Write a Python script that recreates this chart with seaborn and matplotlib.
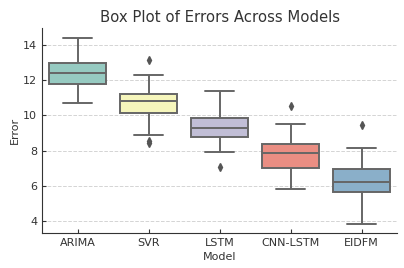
import matplotlib
matplotlib.use("Agg")
import matplotlib.pyplot as plt
import seaborn as sns
import pandas as pd

models = ["ARIMA", "SVR", "LSTM", "CNN-LSTM", "EIDFM"]
arima = [10.74, 11.3, 11.81, 12.1, 12.44, 12.7, 13.01, 13.6, 14.44]
svr = [8.45, 8.53, 8.86, 10.15, 10.4, 10.6, 10.8, 10.95, 11.1, 11.2, 11.6, 12.33, 13.15]
lstm = [7.05, 7.89, 8.78, 9.0, 9.29, 9.5, 9.84, 10.3, 11.39]
cnn_lstm = [5.8, 6.5, 7.0, 7.5, 7.86, 8.1, 8.37, 9.53, 10.55]
eidfm = [3.78, 5.0, 5.61, 5.9, 6.2, 6.6, 6.95, 8.15, 9.44]

rows = []
for name, vals in zip(models, [arima, svr, lstm, cnn_lstm, eidfm]):
    for v in vals:
        rows.append({"Model": name, "Error": v})
df = pd.DataFrame(rows)

sns.set_style("ticks")
fig = plt.figure(figsize=(4.04, 2.68), dpi=100)
ax = fig.add_axes([0.104, 0.131, 0.879, 0.765])

sns.boxplot(data=df, x="Model", y="Error", hue="Model", palette="Set3",
            legend=False, linewidth=1.4, linecolor="#666666", saturation=0.75,
            flierprops=dict(marker="d", markerfacecolor="#555555",
                            markeredgecolor="#555555", markersize=4), ax=ax)

ax.set_ylim(3.3, 15.0)
ax.set_yticks([4, 6, 8, 10, 12, 14])
ax.yaxis.grid(True, linestyle="--", color="#d4d4d4", linewidth=0.7)
ax.set_axisbelow(True)
ax.tick_params(direction="in", labelsize=8, colors="#333333", length=3)
ax.set_title("Box Plot of Errors Across Models", fontsize=10.7, color="#333333", pad=4)
ax.set_xlabel("Model", fontsize=8, color="#333333", labelpad=3)
ax.set_ylabel("Error", fontsize=8, color="#333333", labelpad=2)
sns.despine(ax=ax)
for s in ["left", "bottom"]:
    ax.spines[s].set_color("#333333")

fig.savefig("out.png", dpi=100)
